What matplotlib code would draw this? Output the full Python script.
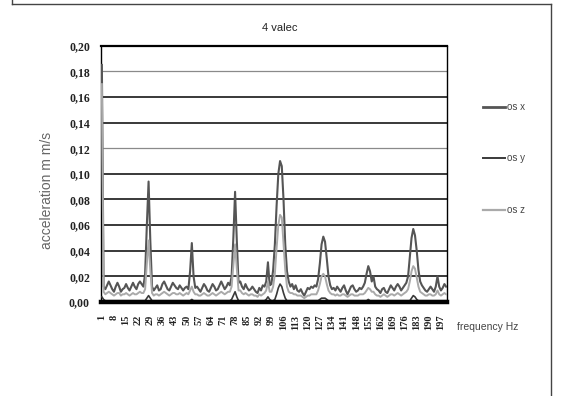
import numpy as np
import matplotlib
matplotlib.use("Agg")
import matplotlib.pyplot as plt
from matplotlib.lines import Line2D

# frequency 1..200 Hz
freq = list(range(1, 201))
tick_labels = list(range(1, 201, 7))

os_x = [
    0.185, 0.012, 0.010, 0.013, 0.016, 0.013, 0.010, 0.008, 0.012, 0.015,
    0.012, 0.008, 0.010, 0.011, 0.014, 0.011, 0.009, 0.012, 0.015, 0.012,
    0.010, 0.014, 0.016, 0.014, 0.012, 0.022, 0.060, 0.094, 0.048, 0.012,
    0.009, 0.011, 0.013, 0.009, 0.010, 0.014, 0.016, 0.013, 0.010, 0.009,
    0.012, 0.015, 0.013, 0.011, 0.010, 0.013, 0.011, 0.009, 0.011, 0.012,
    0.010, 0.024, 0.046, 0.020, 0.011, 0.012, 0.010, 0.008, 0.011, 0.014,
    0.012, 0.009, 0.008, 0.011, 0.014, 0.012, 0.009, 0.010, 0.013, 0.016,
    0.013, 0.010, 0.012, 0.015, 0.013, 0.020, 0.050, 0.086, 0.048, 0.015,
    0.016, 0.012, 0.010, 0.014, 0.011, 0.009, 0.010, 0.012, 0.010, 0.008,
    0.007, 0.011, 0.009, 0.013, 0.012, 0.016, 0.031, 0.013, 0.014, 0.025,
    0.045, 0.075, 0.100, 0.110, 0.106, 0.080, 0.045, 0.024, 0.016, 0.012,
    0.014, 0.010, 0.013, 0.009, 0.008, 0.010, 0.007, 0.005, 0.008, 0.011,
    0.010, 0.012, 0.011, 0.013, 0.012, 0.018, 0.030, 0.045, 0.051, 0.047,
    0.034, 0.020, 0.013, 0.010, 0.011, 0.009, 0.012, 0.010, 0.008, 0.011,
    0.013, 0.009, 0.006, 0.009, 0.012, 0.013, 0.010, 0.008, 0.009, 0.011,
    0.010, 0.012, 0.015, 0.022, 0.028, 0.024, 0.016, 0.020, 0.012, 0.010,
    0.009, 0.007, 0.010, 0.011, 0.008, 0.007, 0.010, 0.013, 0.011, 0.009,
    0.012, 0.014, 0.012, 0.009, 0.011, 0.013, 0.015, 0.020, 0.035, 0.050,
    0.057, 0.052, 0.040, 0.025, 0.016, 0.013, 0.011, 0.009, 0.008, 0.010,
    0.012, 0.010, 0.008, 0.012, 0.020, 0.012, 0.009, 0.011, 0.014, 0.012,
]

os_y = [
    0.004, 0.002, 0.001, 0.001, 0.001, 0.001, 0.001, 0.001, 0.001, 0.001,
    0.001, 0.001, 0.001, 0.001, 0.001, 0.001, 0.001, 0.001, 0.001, 0.001,
    0.001, 0.001, 0.001, 0.001, 0.001, 0.001, 0.003, 0.005, 0.003, 0.001,
    0.001, 0.001, 0.001, 0.001, 0.001, 0.001, 0.001, 0.001, 0.001, 0.001,
    0.001, 0.001, 0.001, 0.001, 0.001, 0.001, 0.001, 0.001, 0.001, 0.001,
    0.001, 0.001, 0.002, 0.001, 0.001, 0.001, 0.001, 0.001, 0.001, 0.001,
    0.001, 0.001, 0.001, 0.001, 0.001, 0.001, 0.001, 0.001, 0.001, 0.001,
    0.001, 0.001, 0.001, 0.001, 0.001, 0.002, 0.005, 0.008, 0.004, 0.001,
    0.001, 0.001, 0.001, 0.001, 0.001, 0.001, 0.001, 0.001, 0.001, 0.001,
    0.001, 0.001, 0.001, 0.001, 0.001, 0.002, 0.004, 0.002, 0.001, 0.001,
    0.002, 0.006, 0.011, 0.014, 0.012, 0.007, 0.003, 0.001, 0.001, 0.001,
    0.001, 0.001, 0.001, 0.001, 0.001, 0.001, 0.001, 0.001, 0.001, 0.001,
    0.001, 0.001, 0.001, 0.001, 0.001, 0.001, 0.002, 0.003, 0.003, 0.003,
    0.002, 0.001, 0.001, 0.001, 0.001, 0.001, 0.001, 0.001, 0.001, 0.001,
    0.001, 0.001, 0.001, 0.001, 0.001, 0.001, 0.001, 0.001, 0.001, 0.001,
    0.001, 0.001, 0.001, 0.001, 0.002, 0.001, 0.001, 0.001, 0.001, 0.001,
    0.001, 0.001, 0.001, 0.001, 0.001, 0.001, 0.001, 0.001, 0.001, 0.001,
    0.001, 0.001, 0.001, 0.001, 0.001, 0.001, 0.001, 0.001, 0.001, 0.003,
    0.005, 0.004, 0.002, 0.001, 0.001, 0.001, 0.001, 0.001, 0.001, 0.001,
    0.001, 0.001, 0.001, 0.001, 0.001, 0.001, 0.001, 0.001, 0.001, 0.001,
]

os_z = [
    0.170, 0.008, 0.006, 0.007, 0.008, 0.007, 0.006, 0.005, 0.006, 0.007,
    0.007, 0.005, 0.006, 0.006, 0.007, 0.006, 0.005, 0.006, 0.007, 0.006,
    0.006, 0.007, 0.008, 0.007, 0.007, 0.010, 0.030, 0.048, 0.025, 0.007,
    0.005, 0.006, 0.006, 0.005, 0.006, 0.007, 0.008, 0.007, 0.006, 0.005,
    0.006, 0.007, 0.007, 0.006, 0.006, 0.007, 0.006, 0.005, 0.006, 0.007,
    0.006, 0.009, 0.012, 0.008, 0.006, 0.006, 0.005, 0.005, 0.006, 0.007,
    0.006, 0.005, 0.005, 0.006, 0.007, 0.006, 0.005, 0.006, 0.007, 0.008,
    0.007, 0.006, 0.007, 0.008, 0.008, 0.012, 0.028, 0.045, 0.026, 0.009,
    0.009, 0.007, 0.006, 0.007, 0.006, 0.005, 0.006, 0.006, 0.005, 0.005,
    0.004, 0.006, 0.005, 0.006, 0.007, 0.009, 0.016, 0.008, 0.008, 0.012,
    0.022, 0.042, 0.060, 0.068, 0.066, 0.045, 0.025, 0.012, 0.008, 0.007,
    0.007, 0.006, 0.006, 0.005, 0.005, 0.005, 0.004, 0.003, 0.004, 0.005,
    0.005, 0.006, 0.006, 0.006, 0.006, 0.009, 0.014, 0.020, 0.022, 0.020,
    0.014, 0.009, 0.007, 0.006, 0.006, 0.005, 0.006, 0.005, 0.005, 0.006,
    0.006, 0.005, 0.004, 0.005, 0.006, 0.006, 0.005, 0.005, 0.005, 0.006,
    0.006, 0.006, 0.007, 0.009, 0.011, 0.010, 0.008, 0.008, 0.006, 0.005,
    0.005, 0.004, 0.005, 0.006, 0.005, 0.004, 0.005, 0.006, 0.006, 0.005,
    0.006, 0.007, 0.006, 0.005, 0.006, 0.007, 0.008, 0.010, 0.016, 0.024,
    0.028, 0.026, 0.019, 0.012, 0.008, 0.007, 0.006, 0.005, 0.005, 0.006,
    0.006, 0.005, 0.005, 0.006, 0.009, 0.006, 0.005, 0.006, 0.007, 0.006,
]

y_ticks = [0.00, 0.02, 0.04, 0.06, 0.08, 0.10, 0.12, 0.14, 0.16, 0.18, 0.20]

W, H = 561, 396
fig = plt.figure(figsize=(W / 100, H / 100), dpi=100)
fig.patch.set_facecolor('white')

narrow = ['Liberation Sans Narrow', 'Liberation Sans', 'DejaVu Sans']
serif = ['Liberation Serif', 'DejaVu Serif']

# outer frame (left, top, right)
for xs, ys in [([12, 12], [0, 4]), ([12, 551], [4, 4]), ([551, 551], [4, 396])]:
    fig.add_artist(Line2D([x / W for x in xs], [1 - y / H for y in ys],
                          color='#444444', lw=1.0))

ax = fig.add_axes([101 / W, 1 - 302 / H, (447 - 101) / W, (302 - 45.7) / H])
ax.set_xlim(0.5, 200.5)
ax.set_ylim(0, 0.20)

# gridlines, some darker than others
for v in y_ticks[1:-1]:
    light = round(v, 2) in (0.18, 0.12)
    ax.axhline(v, color='#8a8a8a' if light else '#2a2a2a',
               lw=0.9 if light else 1.3, zorder=1)

ax.plot(freq, os_x, color='#555555', lw=1.5, zorder=3, label='os x')
ax.plot(freq, os_y, color='#3a3a3a', lw=1.2, zorder=4, label='os y')
ax.plot(freq, os_z, color='#aaaaaa', lw=1.4, zorder=5, label='os z')

for side in ['left', 'right']:
    ax.spines[side].set_color('black')
    ax.spines[side].set_linewidth(1.0)
ax.spines['top'].set_color('black')
ax.spines['top'].set_linewidth(1.6)
ax.spines['bottom'].set_color('black')
ax.spines['bottom'].set_linewidth(3.2)
ax.spines['bottom'].set_zorder(6)

ax.set_yticks(y_ticks)
ax.set_yticklabels([('%.2f' % v).replace('.', ',') for v in y_ticks],
                   fontfamily=serif, fontweight='bold', fontsize=8.5,
                   color='#222222')
ax.set_xticks(tick_labels)
ax.set_xticklabels([str(t) for t in tick_labels], rotation=90,
                   fontfamily=serif, fontweight='bold', fontsize=7.5,
                   color='#222222')
ax.tick_params(axis='y', length=0, pad=8)
ax.tick_params(axis='x', length=0, pad=9)

fig.text(280 / W, 1 - 28 / H, '4 valec', ha='center', va='center',
         fontsize=8, fontfamily=narrow, color='#222222')
fig.text(47 / W, 1 - 190 / H, 'acceleration m m/s', rotation=90,
         ha='center', va='center', fontsize=10, fontfamily=narrow,
         color='#666666')
fig.text(457 / W, 1 - 327 / H, 'frequency Hz', ha='left', va='center',
         fontsize=7.5, fontfamily=narrow, color='#444444')

# legend drawn by hand to keep Excel spacing
for name, col, lw, yy in [('os x', '#555555', 2.0, 106.7),
                          ('os y', '#3a3a3a', 1.4, 157.7),
                          ('os z', '#aaaaaa', 1.6, 210.0)]:
    fig.add_artist(Line2D([483 / W, 505 / W], [1 - yy / H, 1 - yy / H],
                          color=col, lw=lw))
    fig.text(507 / W, 1 - yy / H, name, ha='left', va='center', fontsize=7,
             fontfamily=narrow, color='#444444')

fig.savefig('out.png', dpi=100)
